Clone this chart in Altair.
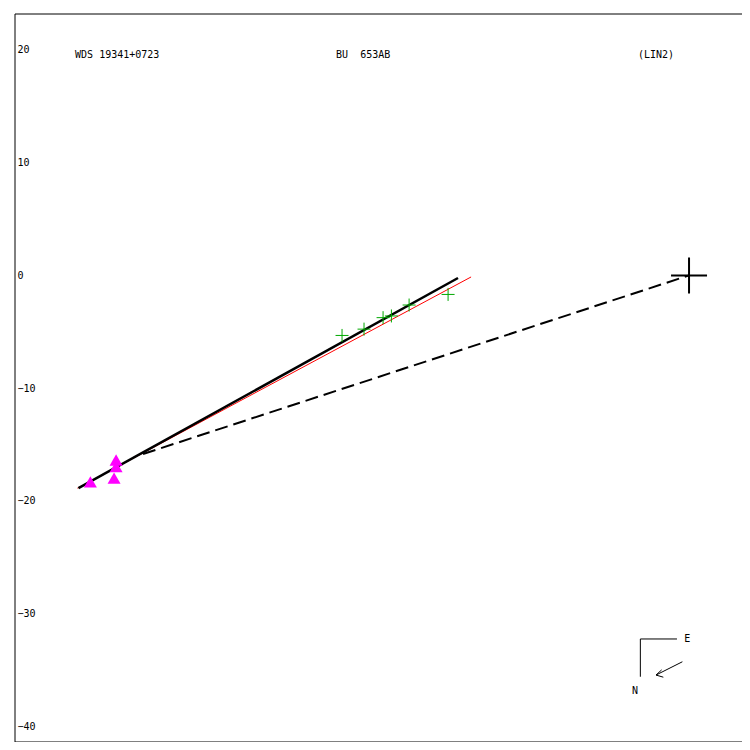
import altair as alt
import pandas as pd

# ---- data (in plot units) ----
# green crosses (measurements)
green_x = [-30.79, -28.84, -27.15, -26.41, -24.84, -21.38]
green_y = [-5.33, -4.77, -3.75, -3.60, -2.63, -1.69]
# magenta triangles
mag_x = [-53.12, -50.84, -50.84, -51.02]
mag_y = [-18.33, -16.38, -16.96, -17.98]
# black solid fit line
black_x = [-54.18, -20.50]
black_y = [-18.88, -0.23]
# red line
red_x = [-54.27, -19.34]
red_y = [-18.88, -0.14]
# dashed line
dash_x = [-48.45, 0.0]
dash_y = [-15.85, 0.0]
# big cross (primary)
prim_x = [0.0]
prim_y = [0.0]
# compass
compass_lx = [-1.07, -4.32, -4.32]
compass_ly = [-32.26, -32.26, -35.61]
arrow_x = [-0.59, -2.93]
arrow_y = [-34.28, -35.46]
wing1_x = [-2.43, -2.93, -2.28]
wing1_y = [-35.0, -35.46, -35.65]
# texts
title_text = ["WDS 19341+0723", "BU\u00a0\u00a0653AB", "(LIN2)"]
title_x = [-54.48, -31.32, -4.53]
title_y = [19.56, 19.56, 19.56]
comp_text = ["E", "N"]
comp_x = [-0.15, -4.79]
comp_y = [-32.26, -36.85]
yticks = [20, 10, 0, -10, -20, -30, -40]

XDOM = [-59.81, 4.70]
YDOM = [-41.40, 23.19]
FONT = "DejaVu Sans Mono"

xs = alt.Scale(domain=XDOM, nice=False, zero=False)
ys = alt.Scale(domain=YDOM, nice=False, zero=False)
YAXIS = alt.Axis(
    values=yticks,
    labelAlign="left",
    labelBaseline="middle",
    labelPadding=-2,
    ticks=False,
    domain=False,
    grid=False,
    title=None,
    labelFont=FONT,
    labelFontSize=10,
    labelColor="black",
)
X = lambda: alt.X("x:Q", scale=xs, axis=None)
Y = lambda: alt.Y("y:Q", scale=ys, axis=YAXIS)


def line_layer(xv, yv, color, width, dash=None):
    df = pd.DataFrame({"x": xv, "y": yv, "o": list(range(len(xv)))})
    kw = dict(color=color, strokeWidth=width, clip=True)
    if dash:
        kw["strokeDash"] = dash
    return alt.Chart(df).mark_line(**kw).encode(x=X(), y=Y(), order="o:Q")


# frame: left, top, bottom (right edge lies off the page in the reference)
frame_v = alt.Chart(pd.DataFrame({"x": [XDOM[0]]})).mark_rule(color="black", strokeWidth=1).encode(
    x=X(), y=alt.value(0), y2=alt.value(10000)
)
frame_h = alt.Chart(pd.DataFrame({"y": [YDOM[0], YDOM[1]]})).mark_rule(color="black", strokeWidth=1).encode(
    y=Y(), x=alt.value(0), x2=alt.value(10000)
)

red = line_layer(red_x, red_y, "#ff0000", 1)
black = line_layer(black_x, black_y, "black", 2.5)
dashed = line_layer(dash_x, dash_y, "black", 2, [13, 6])

green = alt.Chart(pd.DataFrame({"x": green_x, "y": green_y})).mark_point(
    shape="M -1 0 L 1 0 M 0 -1 L 0 1", size=169, filled=False, color="#00a800", strokeWidth=1, opacity=1
).encode(x=X(), y=Y())

mag = alt.Chart(pd.DataFrame({"x": mag_x, "y": mag_y})).mark_point(
    shape="triangle-up", size=169, filled=True, color="#ff00ff", opacity=1
).encode(x=X(), y=Y())

prim = alt.Chart(pd.DataFrame({"x": prim_x, "y": prim_y})).mark_point(
    shape="M -1 0 L 1 0 M 0 -1 L 0 1", size=1296, filled=False, color="black", strokeWidth=2, opacity=1
).encode(x=X(), y=Y())

comp_l = line_layer(compass_lx, compass_ly, "black", 1)
arrow = line_layer(arrow_x, arrow_y, "black", 1)
wing = line_layer(wing1_x, wing1_y, "black", 1)

titles = alt.Chart(pd.DataFrame({"x": title_x, "y": title_y, "t": title_text})).mark_text(
    align="left", baseline="middle", font=FONT, fontSize=10, color="black"
).encode(x=X(), y=Y(), text="t:N")

ctext = alt.Chart(pd.DataFrame({"x": comp_x, "y": comp_y, "t": comp_text})).mark_text(
    align="center", baseline="middle", font=FONT, fontSize=10, color="black"
).encode(x=X(), y=Y(), text="t:N")

chart = alt.layer(
    frame_v, frame_h, red, black, dashed, green, mag, prim, comp_l, arrow, wing, titles, ctext
).properties(
    width=727,
    height=728,
    background="white",
    autosize=alt.AutoSizeParams(type="none"),
    padding={"left": 7, "top": 6, "right": 0, "bottom": 0},
).configure_view(strokeWidth=0, strokeOpacity=0, fill="white")

chart.save("out.html", embed_options={"renderer": "svg", "actions": False})
